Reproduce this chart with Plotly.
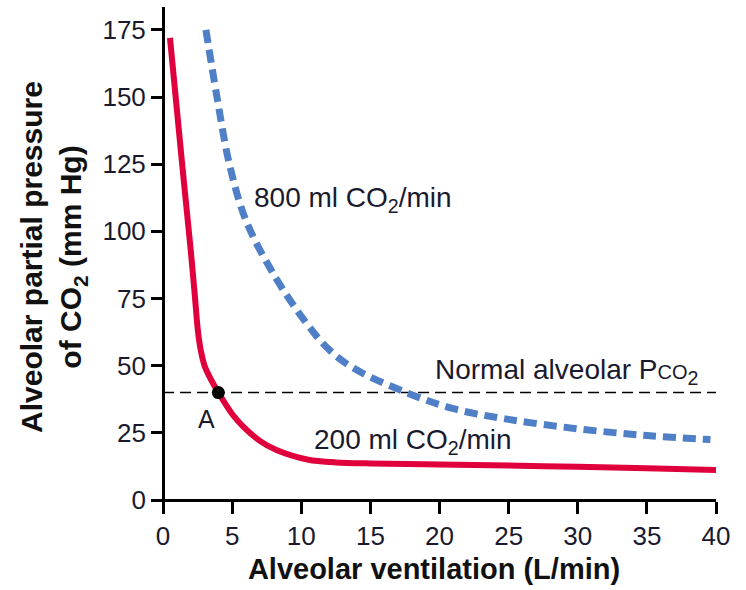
import plotly.graph_objects as go

# Data
vent_200 = [0.5, 1.4, 2.0, 2.3, 2.5, 2.7, 3.0, 3.5, 4.0, 5.0, 5.8, 7.0, 8.2, 10.5, 12.5, 15, 20, 25, 30, 35, 40]
pco2_200 = [172, 124, 93, 76, 64, 56.5, 50, 44.5, 40, 32, 27.3, 22, 18.6, 15, 14, 13.6, 13.2, 12.8, 12.4, 11.8, 11.2]

vent_800 = [3.1, 3.9, 4.8, 6.0, 8.0, 10.2, 12.0, 13.8, 17.6, 21, 25, 30, 35, 39.6]
pco2_800 = [175, 150, 125, 104, 84, 67, 56, 49, 40, 34, 30, 26.5, 24, 22.5]

normal_x = [0, 40]
normal_pco2 = 40
point_a = (4.0, 40)

x_ticks = [0, 5, 10, 15, 20, 25, 30, 35, 40]
y_ticks = [0, 25, 50, 75, 100, 125, 150, 175]

x_range = [-0.8, 40]
y_range = [-2.6, 183.5]

FONT = "Liberation Sans, Arial, sans-serif"
TXT = "#1a1a2e"

fig = go.Figure()

fig.add_trace(go.Scatter(
    x=normal_x, y=[normal_pco2] * len(normal_x), mode="lines",
    line=dict(color="black", width=1.5, dash="11px,6px"),
    hoverinfo="skip", showlegend=False))

fig.add_trace(go.Scatter(
    x=vent_800, y=pco2_800, mode="lines", line_shape="spline",
    line=dict(color="#4f7fc6", width=7, dash="13px,7px"),
    name="800 ml CO2/min", showlegend=False))

fig.add_trace(go.Scatter(
    x=vent_200, y=pco2_200, mode="lines", line_shape="spline",
    line=dict(color="#e0003c", width=6, smoothing=0.8),
    name="200 ml CO2/min", showlegend=False))

fig.add_trace(go.Scatter(
    x=[point_a[0]], y=[point_a[1]], mode="markers",
    marker=dict(color="black", size=13),
    hoverinfo="skip", showlegend=False))

ann_font = dict(family=FONT, size=28, color=TXT)
fig.add_annotation(x=6.4, y=111.7, text="800 ml CO<sub>2</sub>/min", showarrow=False,
                   xanchor="left", yanchor="middle", font=ann_font)
fig.add_annotation(x=10.8, y=21.7, text="200 ml CO<sub>2</sub>/min", showarrow=False,
                   xanchor="left", yanchor="middle", font=ann_font)
fig.add_annotation(x=40, y=47.8,
                   text="Normal alveolar P<span style='font-size:20px'>CO</span><sub>2</sub>",
                   showarrow=False, xanchor="right", yanchor="middle", xshift=-16, font=ann_font)
fig.add_annotation(x=3.15, y=30.2, text="A", showarrow=False,
                   xanchor="center", yanchor="middle", font=dict(family=FONT, size=25, color=TXT))

x_pos = (0 - y_range[0]) / (y_range[1] - y_range[0])
y_pos = (0 - x_range[0]) / (x_range[1] - x_range[0])

fig.update_layout(
    width=746, height=590,
    margin=dict(l=152, r=30, t=7, b=83),
    paper_bgcolor="white", plot_bgcolor="white",
    font=dict(family=FONT, color=TXT),
    xaxis=dict(
        range=x_range, anchor="free", position=x_pos,
        tickvals=x_ticks, ticktext=[str(v) for v in x_ticks],
        ticks="outside", ticklen=12, tickwidth=2.5, tickcolor="black",
        showline=True, linewidth=3, linecolor="black",
        showgrid=False, zeroline=False,
        tickfont=dict(family=FONT, size=26, color=TXT),
        title=dict(text="<b>Alveolar ventilation (L/min)</b>",
                   font=dict(family=FONT, size=29, color="#111"), standoff=8),
    ),
    yaxis=dict(
        range=y_range, anchor="free", position=y_pos,
        tickvals=y_ticks, ticktext=[str(v) for v in y_ticks],
        ticks="outside", ticklen=11, tickwidth=2.5, tickcolor="black",
        showline=True, linewidth=3, linecolor="black",
        showgrid=False, zeroline=False,
        tickfont=dict(family=FONT, size=26, color=TXT),
        title=dict(text="<b>Alveolar partial pressure<br>of CO<sub>2</sub> (mm Hg)</b>",
                   font=dict(family=FONT, size=30, color="#111"), standoff=10),
    ),
)

fig.write_html("out.html")
